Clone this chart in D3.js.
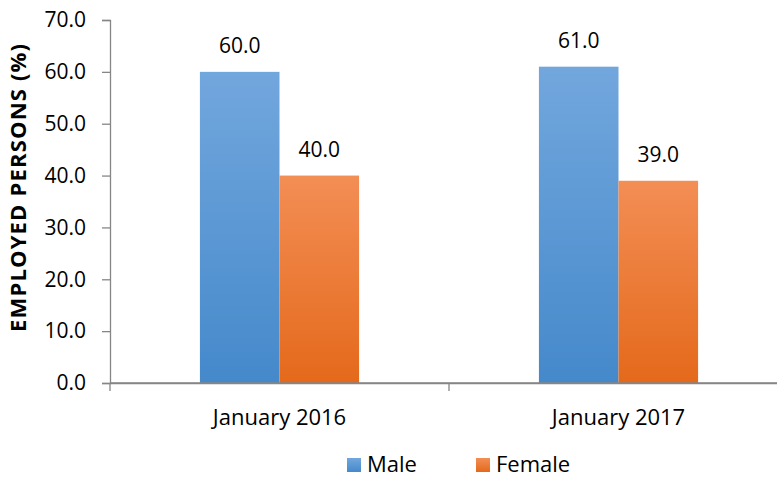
<!DOCTYPE html>
<html>
<head>
<meta charset="utf-8">
<script src="https://cdn.jsdelivr.net/npm/d3@7"></script>
<style>
  body { margin: 0; background: #fff; }
  svg { display: block; }
</style>
</head>
<body>
<div id="viz"></div>
<script>
var width = 777;
var height = 477;

var categories = ["January 2016", "January 2017"];
var seriesNames = ["Male", "Female"];
var maleValues = [60.0, 61.0];
var femaleValues = [40.0, 39.0];
var yTicks = [0, 10, 20, 30, 40, 50, 60, 70];

var plotLeft = 110, plotRight = 788, plotTop = 20, plotBottom = 383;
var font = "Open Sans";

var canvas = d3.select('#viz')
	.append('svg')
	.attr("height", height)
	.attr("width", width);

var defs = canvas.append("defs");
var grads = [
	{id: "gMale", top: "#72a7dd", bottom: "#4589cb"},
	{id: "gFemale", top: "#f38e55", bottom: "#e4691b"}
];
grads.forEach(function(g){
	var lg = defs.append("linearGradient")
		.attr("id", g.id)
		.attr("x1", 0).attr("y1", 0).attr("x2", 0).attr("y2", 1);
	lg.append("stop").attr("offset", "0%").attr("stop-color", g.top);
	lg.append("stop").attr("offset", "100%").attr("stop-color", g.bottom);
});

var xScale = d3.scaleBand()
	.domain(categories)
	.range([plotLeft, plotRight]);

var xInner = d3.scaleBand()
	.domain(seriesNames)
	.range([0, xScale.bandwidth()])
	.paddingOuter(1.13)
	.paddingInner(0);

var yScale = d3.scaleLinear()
	.domain([0, 70])
	.range([plotBottom, plotTop]);

// y axis
var yAxis = d3.axisLeft(yScale)
	.tickValues(yTicks)
	.tickSize(8)
	.tickPadding(16)
	.tickFormat(d3.format(".1f"));

var yg = canvas.append("g")
	.attr("transform", "translate(" + plotLeft + ",0)")
	.call(yAxis);
yg.select(".domain").attr("stroke", "#868686").attr("stroke-width", 1.3);
yg.selectAll(".tick line").attr("stroke", "#868686").attr("stroke-width", 1.3);
yg.selectAll(".tick text")
	.attr("font-family", font)
	.attr("font-size", 21)
	.attr("fill", "#000");

// x axis
var xAxis = d3.axisBottom(xScale)
	.tickSize(0)
	.tickPadding(26);

var xg = canvas.append("g")
	.attr("transform", "translate(0," + plotBottom + ")")
	.call(xAxis);
xg.select(".domain").attr("stroke", "#868686").attr("stroke-width", 1.3);
xg.selectAll(".tick text")
	.attr("font-family", font)
	.attr("font-size", 22)
	.attr("fill", "#000");

// category separator ticks
var sepPositions = [plotLeft].concat(categories.map(function(c){ return xScale(c) + xScale.bandwidth(); }));
canvas.append("g").selectAll("line")
	.data(sepPositions)
	.enter()
		.append("line")
		.attr("x1", function(d){ return d; })
		.attr("x2", function(d){ return d; })
		.attr("y1", plotBottom)
		.attr("y2", plotBottom + 8)
		.attr("stroke", "#868686")
		.attr("stroke-width", 1.3);

// bars
var rows = categories.map(function(c, i){
	return [
		{cat: c, series: "Male", value: maleValues[i], fill: "url(#gMale)"},
		{cat: c, series: "Female", value: femaleValues[i], fill: "url(#gFemale)"}
	];
});
var flat = [].concat.apply([], rows);

canvas.append("g")
	.selectAll("rect")
		.data(flat)
	.enter()
		.append("rect")
		.attr("x", function(d){ return xScale(d.cat) + xInner(d.series); })
		.attr("width", xInner.bandwidth())
		.attr("y", function(d){ return yScale(d.value); })
		.attr("height", function(d){ return plotBottom - yScale(d.value); })
		.attr("fill", function(d){ return d.fill; });

// redraw baseline over the bars
canvas.append("line")
	.attr("x1", plotLeft).attr("x2", plotRight)
	.attr("y1", plotBottom).attr("y2", plotBottom)
	.attr("stroke", "#868686")
	.attr("stroke-width", 1.3);

// data labels
canvas.append("g")
	.selectAll("text")
		.data(flat)
	.enter()
		.append("text")
		.attr("x", function(d){ return xScale(d.cat) + xInner(d.series) + xInner.bandwidth() / 2; })
		.attr("y", function(d){ return yScale(d.value) - 19; })
		.attr("text-anchor", "middle")
		.attr("font-family", font)
		.attr("font-size", 21)
		.attr("fill", "#000")
		.text(function(d){ return d3.format(".1f")(d.value); });

// y label
canvas.append("text")
	.attr("transform", "translate(26,188) rotate(-90)")
	.attr("text-anchor", "middle")
	.attr("font-family", font)
	.attr("font-weight", "bold")
	.attr("font-size", 22)
	.attr("textLength", 288)
	.attr("lengthAdjust", "spacing")
	.attr("fill", "#000")
	.text("EMPLOYED PERSONS (%)");

// legend
var legend = canvas.append("g")
	.selectAll("g")
		.data(seriesNames)
	.enter()
		.append("g")
		.attr("transform", function(d, i){ return "translate(" + (347 + i * 129) + ",458)"; });

legend.append("rect")
	.attr("width", 14)
	.attr("height", 14)
	.attr("fill", function(d, i){ return i === 0 ? "url(#gMale)" : "url(#gFemale)"; });

legend.append("text")
	.attr("x", 20)
	.attr("y", 14)
	.attr("font-family", font)
	.attr("font-size", 22)
	.attr("fill", "#000")
	.text(function(d){ return d; });
</script>
</body>
</html>
